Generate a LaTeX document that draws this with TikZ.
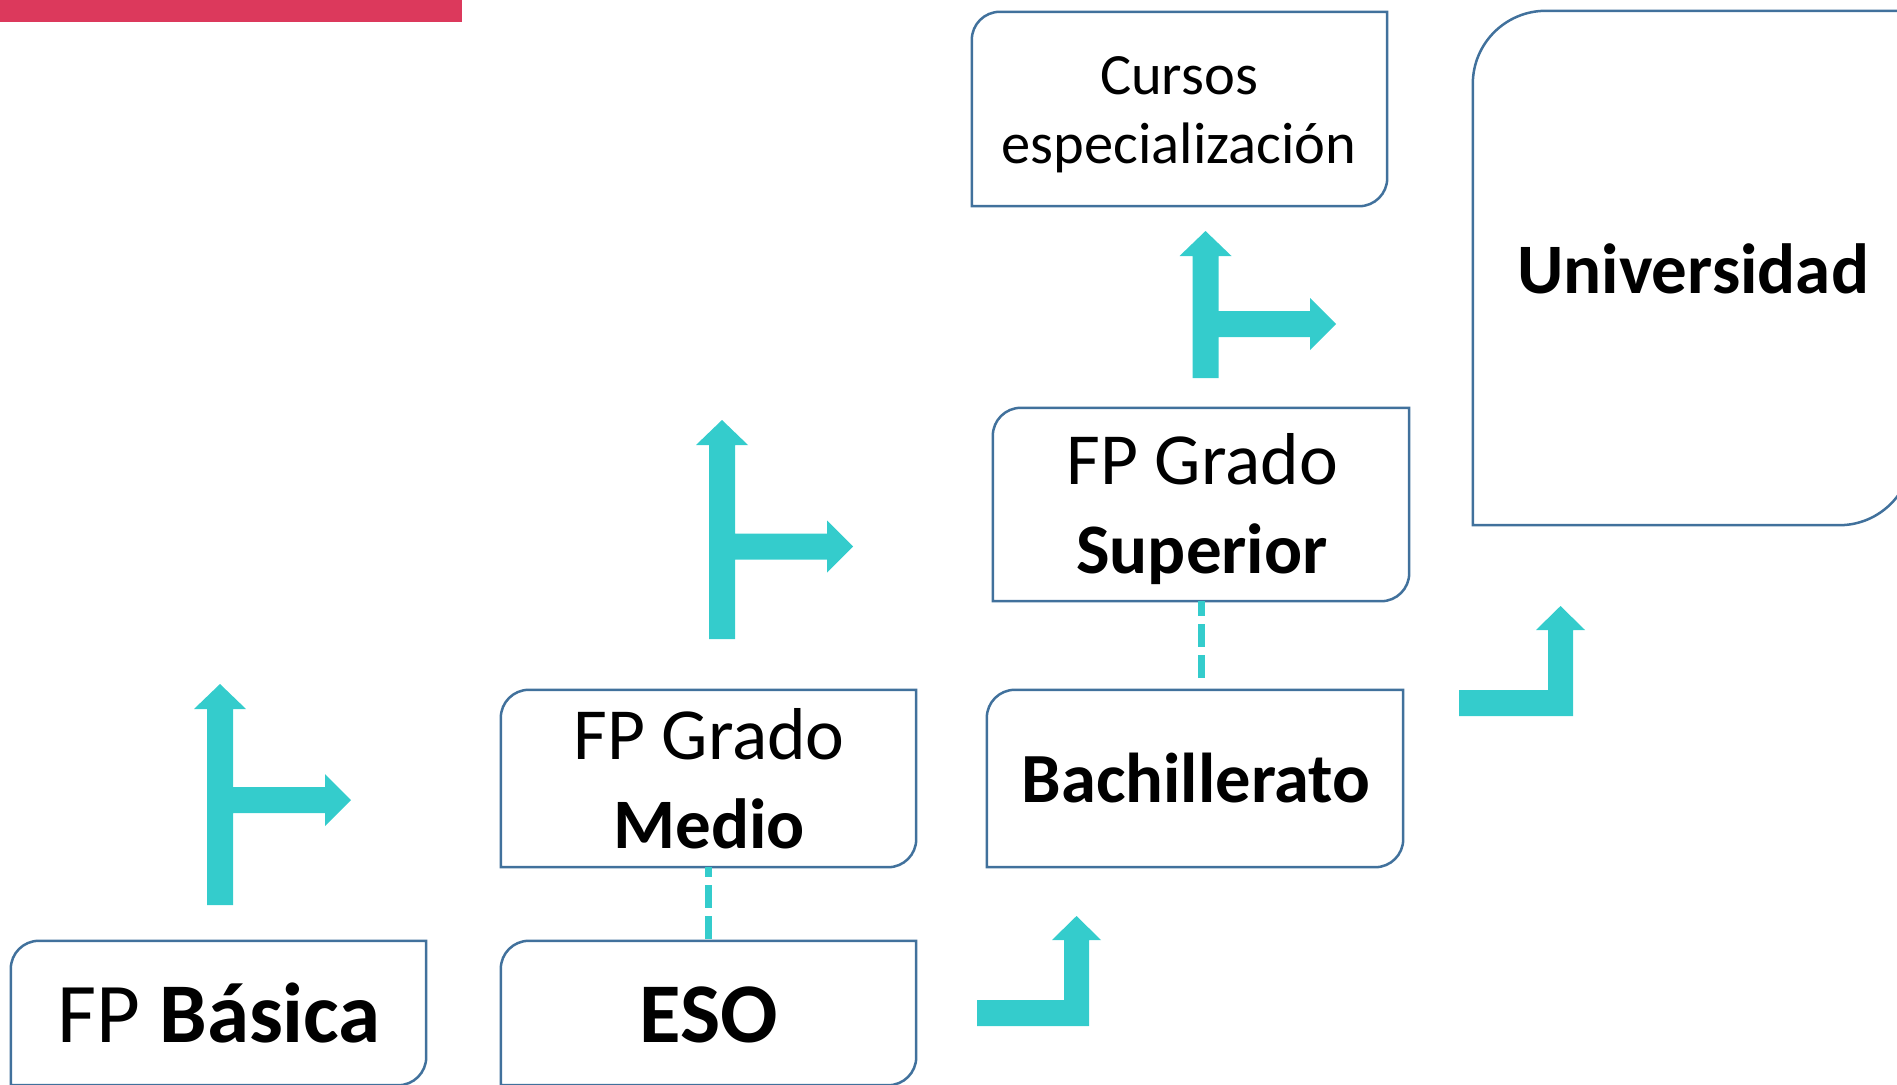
\documentclass[tikz,border=0pt]{standalone}
\usepackage{fontspec}
\setmainfont{Carlito}
\usetikzlibrary{fit}
\definecolor{boxblue}{RGB}{65,113,156}
\definecolor{tealarrow}{RGB}{52,204,204}
\definecolor{redbar}{RGB}{220,57,92}
\newcommand\fsz[1]{\fontsize{#1}{#1}\selectfont}
% outline with rounded top-left and bottom-right corners
\newcommand\diagoutline[2]{%
  \draw[boxline] (#1.south west) -- ([yshift=-#2]#1.north west)
    arc[start angle=180,end angle=90,radius=#2] -- (#1.north east)
    -- ([yshift=#2]#1.south east)
    arc[start angle=0,end angle=-90,radius=#2] -- cycle;}
% T-shaped block arrow: shaft x, bottom y, tip y, branch y, branch tip x (pixel coords, y down)
\newcommand\tarrow[5]{%
  \fill[tealarrow] ({#1-13},{-#2}) -- ({#1-13},{-(#3+25)}) -- ({#1-26},{-(#3+25)})
    -- (#1,{-#3}) -- ({#1+26},{-(#3+25)}) -- ({#1+13},{-(#3+25)})
    -- ({#1+13},{-(#4-13)}) -- ({#5-26},{-(#4-13)}) -- ({#5-26},{-(#4-26)})
    -- (#5,{-#4}) -- ({#5-26},{-(#4+26)}) -- ({#5-26},{-(#4+13)})
    -- ({#1+13},{-(#4+13)}) -- ({#1+13},{-#2}) -- cycle;}
% L-shaped block arrow: left x, bar top y, bar bottom y, shaft left x, shaft right x, tip y
\newcommand\larrow[6]{%
  \fill[tealarrow] (#1,{-#3}) -- (#5,{-#3}) -- (#5,{-(#6+24)})
    -- ({(#4+#5)/2+24.5},{-(#6+24)}) -- ({(#4+#5)/2},{-#6})
    -- ({(#4+#5)/2-24.5},{-(#6+24)}) -- (#4,{-(#6+24)})
    -- (#4,{-#2}) -- (#1,{-#2}) -- cycle;}
\begin{document}
\begin{tikzpicture}[x=1pt,y=1pt,
  boxline/.style={draw=boxblue,line width=2.5pt},
  boxarea/.style={inner sep=0pt,draw=none},
  txt/.style={anchor=base,inner sep=0pt},
  dashlink/.style={draw=tealarrow,line width=7pt,dash pattern=on 23pt off 8pt}]
\useasboundingbox (0,-1084) rectangle (1897,0);
\clip (0,-1084) rectangle (1897,0);

% red bar
\fill[redbar] (0,0) rectangle (462,-22);

% boxes
\node[boxarea,fit={(972,-12) (1387,-206)}] (cur) {};
\node[boxarea,fit={(1473,-11) (1912,-525)}] (uni) {};
\node[boxarea,fit={(993,-408) (1409,-601)}] (sup) {};
\node[boxarea,fit={(987,-690) (1403,-867)}] (bach) {};
\node[boxarea,fit={(501,-690) (916,-867)}] (med) {};
\node[boxarea,fit={(501,-941) (916,-1085)}] (eso) {};
\node[boxarea,fit={(11,-941) (426,-1085)}] (bas) {};

\diagoutline{cur}{28pt}
\diagoutline{uni}{73pt}
\diagoutline{sup}{28pt}
\diagoutline{bach}{28pt}
\diagoutline{med}{28pt}
\diagoutline{eso}{28pt}
\diagoutline{bas}{28pt}

% texts
\node[txt,font=\fsz{58.5}] (cur1) at (1179,-94) {Cursos};
\node[txt,font=\fsz{58.5}] (cur2) at (1179,-163) {especialización};
\node[txt,font=\fsz{71}\bfseries] (unit) at (1693,-293) {Universidad};
\node[txt,font=\fsz{73.5}] (sup1) at (1202,-484) {FP Grado};
\node[txt,font=\fsz{71}\bfseries] (sup2) at (1202,-573) {Superior};
\node[txt,font=\fsz{70.5}\bfseries] (bacht) at (1196,-802) {Bachillerato};
\node[txt,font=\fsz{73.5}] (med1) at (709,-759) {FP Grado};
\node[txt,font=\fsz{71}\bfseries] (med2) at (709,-848) {Medio};
\node[txt,font=\fsz{85}\bfseries] (esot) at (709,-1042) {ESO};
\node[txt,font=\fsz{85}] (bast) at (219,-1042) {FP \textbf{Básica}};

% dashed links
\draw[dashlink,dash phase=13pt] (med.south) -- (eso.north);
\draw[dashlink,dash phase=8pt] (sup.south) -- ([yshift=10pt]sup.south |- bach.north);

% block arrows
\tarrow{220}{905}{684}{800}{351}
\tarrow{722}{639}{420}{546.5}{853}
\tarrow{1205.5}{378}{231}{324}{1336}
\larrow{977}{1000}{1026}{1064}{1089}{916}
\larrow{1459}{690}{716}{1548}{1573}{606}
\end{tikzpicture}
\end{document}
